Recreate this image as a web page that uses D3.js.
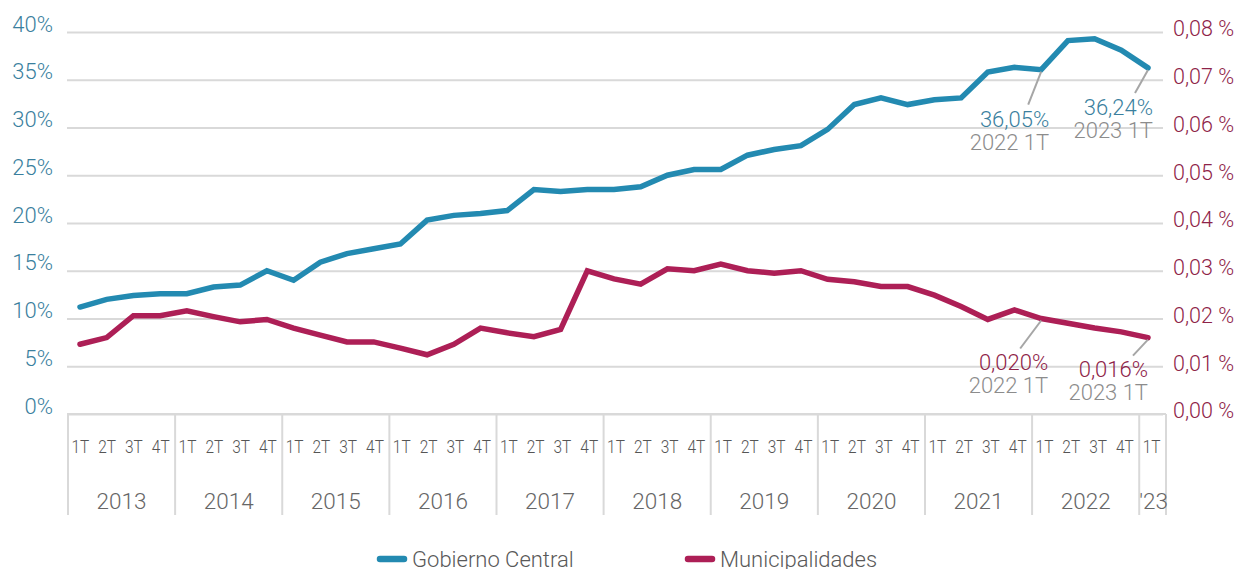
<!DOCTYPE html>
<html>
<head>
<meta charset="utf-8">
<script src="https://cdn.jsdelivr.net/npm/d3@7"></script>
<style>
    body { margin: 0; background: #fff; }
    svg  { display: block; font-family: Roboto, "Open Sans", sans-serif; font-weight: 300; }
</style>
</head>
<body>
<svg id="chart" width="1240" height="569"></svg>
<script>
// years and quarters shown on the x axis
const years    = ["2013", "2014", "2015", "2016", "2017", "2018", "2019", "2020", "2021", "2022", "2023"];
const quarters = ["1T", "2T", "3T", "4T"];
const yearLabels = ["2013", "2014", "2015", "2016", "2017", "2018", "2019", "2020", "2021", "2022", "'23"];

// Gobierno Central, % (left axis)
const gobierno = [
    11.2, 12.0, 12.4, 12.6,
    12.6, 13.3, 13.5, 15.0,
    14.0, 15.9, 16.8, 17.3,
    17.8, 20.3, 20.8, 21.0,
    21.3, 23.5, 23.3, 23.5,
    23.5, 23.8, 25.0, 25.6,
    25.6, 27.1, 27.7, 28.1,
    29.8, 32.4, 33.1, 32.4,
    32.9, 33.1, 35.8, 36.3,
    36.05, 39.1, 39.3, 38.1,
    36.24
];

// Municipalidades, % (right axis)
const municipal = [
    0.0146, 0.0160, 0.0206, 0.0206,
    0.0216, 0.0204, 0.0193, 0.0198,
    0.0180, 0.0165, 0.0151, 0.0151,
    0.0138, 0.0124, 0.0146, 0.0180,
    0.0170, 0.0162, 0.0177, 0.0300,
    0.0283, 0.0272, 0.0304, 0.0300,
    0.0314, 0.0300, 0.0295, 0.0300,
    0.0282, 0.0277, 0.0267, 0.0267,
    0.0249, 0.0225, 0.0198, 0.0218,
    0.0200, 0.0190, 0.0180, 0.0172,
    0.0160
];

const leftTicks  = [0, 5, 10, 15, 20, 25, 30, 35, 40];
const rightTicks = [0, 0.01, 0.02, 0.03, 0.04, 0.05, 0.06, 0.07, 0.08];

// annotated points
const notes = ["2022 1T", "2023 1T"];

// ---------------------------------------------------------------

// build the list of quarter ids (2013 1T ... 2023 1T)
var ids = [];
years.forEach(y => quarters.forEach(q => ids.push(y + " " + q)));
ids = ids.slice(0, gobierno.length);

const blue   = "#238ab1";
const red    = "#ad1f56";
const blueTx = "#3a7f9e";
const redTx  = "#8e2348";
const grid   = "#d9d9d9";

var svg = d3.select("#chart");

var plotTop = 32, plotBottom = 414, plotLeft = 67, plotRight = 1163;

var xBand  = d3.scaleBand().domain(ids).range([68, 1166]);
var xPoint = d3.scalePoint().domain(ids).range([80, 1148]);
var yLeft  = d3.scaleLinear().domain([0, 40]).range([plotBottom, plotTop]);
var yRight = d3.scaleLinear().domain([0, 0.08]).range([plotBottom, plotTop]);

// horizontal gridlines + left labels
var gLeft = svg.append("g")
    .attr("transform", "translate(" + plotLeft + ",0)")
    .call(d3.axisLeft(yLeft).tickValues(leftTicks)
        .tickSize(-(plotRight - plotLeft)).tickPadding(14)
        .tickFormat(d => d + "%"))
    .attr("font-family", null).attr("font-size", null);
gLeft.select(".domain").remove();
gLeft.selectAll("line").attr("stroke", grid).attr("stroke-width", 2);
gLeft.selectAll("text")
    .attr("fill", blueTx).attr("font-size", 22)
    .attr("dy", "-0.04em");

// right labels
var gRight = svg.append("g")
    .attr("transform", "translate(" + plotRight + ",0)")
    .call(d3.axisRight(yRight).tickValues(rightTicks).tickSize(0).tickPadding(10)
        .tickFormat(d => d3.format(".2f")(d).replace(".", ",") + " %"))
    .attr("font-family", null).attr("font-size", null);
gRight.select(".domain").remove();
gRight.selectAll("text")
    .attr("fill", redTx).attr("font-size", 21.5)
    .attr("dy", "0.18em");

// year separators on the category axis
var sepX = years.map(y => xBand(y + " 1T")).concat([xBand.range()[1]]);
svg.append("line")
    .attr("x1", plotLeft).attr("x2", xBand.range()[1])
    .attr("y1", plotBottom).attr("y2", plotBottom)
    .attr("stroke", grid).attr("stroke-width", 2);
svg.selectAll(".sep").data(sepX).enter().append("line")
    .attr("class", "sep")
    .attr("x1", d => d).attr("x2", d => d)
    .attr("y1", plotBottom).attr("y2", 515)
    .attr("stroke", grid).attr("stroke-width", 2);

// quarter labels (condensed)
svg.selectAll(".qlabel").data(ids).enter().append("text")
    .attr("class", "qlabel")
    .attr("transform", d => "translate(" + (xBand(d) + xBand.bandwidth() / 2 - 1) + ",453) scale(0.86,1)")
    .attr("text-anchor", "middle")
    .attr("font-size", 18)
    .attr("fill", "#555")
    .text(d => d.split(" ")[1]);

// year labels
svg.selectAll(".ylabel").data(years).enter().append("text")
    .attr("class", "ylabel")
    .attr("x", (y, i) => {
        var first = xBand(y + " 1T");
        var last  = i < years.length - 1 ? xBand(years[i + 1] + " 1T") : xBand.range()[1];
        return (first + last) / 2 + (i == years.length - 1 ? 1 : 0);
    })
    .attr("y", 509)
    .attr("text-anchor", "middle")
    .attr("font-size", 22.5)
    .attr("fill", "#666")
    .text((y, i) => yearLabels[i]);

// lines
var lineLeft  = d3.line().x((d, i) => xPoint(ids[i])).y(d => yLeft(d));
var lineRight = d3.line().x((d, i) => xPoint(ids[i])).y(d => yRight(d));

svg.append("path").datum(gobierno)
    .attr("d", lineLeft)
    .attr("fill", "none").attr("stroke", blue)
    .attr("stroke-width", 5.5).attr("stroke-linecap", "round");

svg.append("path").datum(municipal)
    .attr("d", lineRight)
    .attr("fill", "none").attr("stroke", red)
    .attr("stroke-width", 5.5).attr("stroke-linecap", "round");

// annotations: leader line offsets and text offsets
var annStyle = [
    {series: "g", id: notes[0], lead: [-13, 35], tx: 8, ty: 57},
    {series: "g", id: notes[1], lead: [-13, 25], tx: 5, ty: 47},
    {series: "m", id: notes[0], lead: [-21, 30], tx: 7, ty: 51},
    {series: "m", id: notes[1], lead: [-15, 18], tx: 0, ty: 39}
];

annStyle.forEach(a => {
    var i  = ids.indexOf(a.id);
    var px = xPoint(a.id);
    var py = a.series == "g" ? yLeft(gobierno[i]) : yRight(municipal[i]);
    var label = a.series == "g"
        ? d3.format(".2f")(gobierno[i]).replace(".", ",") + "%"
        : d3.format(".3f")(municipal[i]).replace(".", ",") + "%";

    svg.append("line")
        .attr("x1", px).attr("y1", py + 2)
        .attr("x2", px + a.lead[0]).attr("y2", py + a.lead[1])
        .attr("stroke", "#a6a6a6").attr("stroke-width", 2);

    svg.append("text")
        .attr("x", px + a.tx).attr("y", py + a.ty)
        .attr("text-anchor", "end").attr("font-size", 22)
        .attr("fill", a.series == "g" ? blueTx : redTx)
        .text(label);

    svg.append("text")
        .attr("x", px + a.tx).attr("y", py + a.ty + 23)
        .attr("text-anchor", "end").attr("font-size", 22)
        .attr("fill", "#8c8c8c")
        .text(a.id);
});

// legend
var legend = [
    {name: "Gobierno Central", color: blue, x: 377},
    {name: "Municipalidades",  color: red,  x: 685}
];
var lg = svg.selectAll(".legend").data(legend).enter().append("g")
    .attr("class", "legend")
    .attr("transform", d => "translate(" + d.x + ",559)");
lg.append("line")
    .attr("x1", 3).attr("x2", 27).attr("y1", 0).attr("y2", 0)
    .attr("stroke", d => d.color).attr("stroke-width", 6.5)
    .attr("stroke-linecap", "round");
lg.append("text")
    .attr("x", 35).attr("y", 8)
    .attr("font-size", 22).attr("fill", "#595959")
    .text(d => d.name);
</script>
</body>
</html>
